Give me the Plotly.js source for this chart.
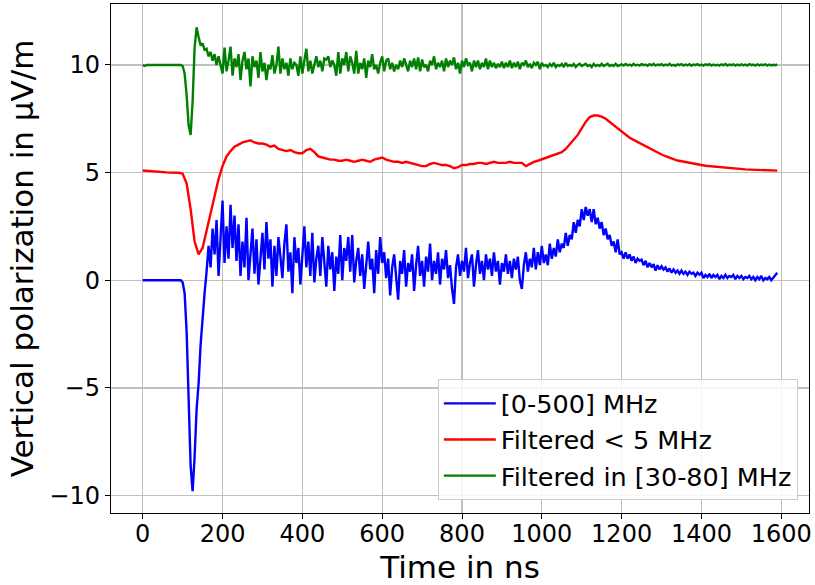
<!DOCTYPE html>
<html>
<head>
<meta charset="utf-8">
<script src="https://cdn.plot.ly/plotly-3.0.1.min.js"></script>
<style>html,body{margin:0;padding:0;background:#fff;}#chart{width:815px;height:585px;}</style>
</head>
<body>
<div id="chart"></div>
<script>
// Sampling: noisy traces every 5 ns, low-pass trace every 10 ns (starting at 0 ns)
const dtFast = 5;
const dtSlow = 10;

// [0-500] MHz (µV/m)
const broadband = [
  0,0,0,0,0,0,0,0,0,0,0,0,0,0,0,0,0,0,0,0,
  -0.1,-0.6,-2.4,-5.5,-8.6,-9.8,-8.2,-6.0,-4.8,-3.0,-1.6,-0.6,0.4,1.6,0.6,2.4,1.2,2.8,0.2,1.8,
  3.7,0.8,2.5,1.0,3.5,1.5,3.0,0.9,2.6,0.2,1.8,0.6,2.9,0.0,1.4,2.4,0.3,1.9,-0.2,1.2,
  2.2,0.5,2.7,1.0,1.9,-0.3,1.6,0.2,2.0,1.1,0.1,1.7,2.6,0.4,1.3,-0.6,2.0,0.8,1.5,-0.2,
  1.4,2.5,0.6,1.8,0.2,2.2,-0.1,1.0,1.6,0.2,2.0,0.8,-0.3,1.6,0.5,1.3,-0.5,1.1,0.3,2.1,
  0.0,1.5,0.9,2.0,0.4,2.1,-0.1,0.9,1.5,0.2,1.2,-0.4,0.7,1.8,0.5,1.0,-0.6,1.4,0.3,2.0,
  0.8,1.3,0.1,1.0,-0.7,0.6,1.2,0.0,-0.9,0.9,0.3,1.4,-0.3,0.8,0.4,1.2,-0.5,0.7,1.6,0.2,
  0.9,-0.3,1.1,0.4,1.7,0.0,0.9,0.3,1.3,-0.2,1.0,0.5,1.4,0.1,0.7,-0.4,-1.1,0.6,1.2,0.2,
  0.9,0.4,1.5,0.1,0.8,1.2,-0.3,0.7,1.4,0.3,0.9,0.0,1.2,0.5,1.0,0.2,1.3,0.4,0.9,-0.2,
  0.8,0.4,1.2,0.3,0.9,0.1,1.0,0.5,1.1,0.0,-0.4,0.7,1.3,0.4,1.0,0.6,1.5,0.5,1.3,0.7,
  1.6,0.8,1.2,0.7,1.7,1.0,1.5,1.1,1.9,1.3,1.7,1.5,2.2,1.6,2.1,1.9,2.7,2.2,2.8,2.5,
  3.3,2.8,3.4,3.0,3.3,2.7,3.3,2.6,2.9,2.4,2.7,2.1,2.4,1.9,2.1,1.6,1.8,1.3,1.9,1.2,
  1.3,1.0,1.3,1.0,1.2,0.9,1.1,0.8,1.0,0.9,0.95,0.7,0.9,0.6,0.8,0.6,0.75,0.45,0.7,0.5,
  0.65,0.5,0.6,0.4,0.55,0.35,0.5,0.35,0.45,0.3,0.45,0.3,0.4,0.25,0.4,0.3,0.35,0.2,0.35,0.25,
  0.35,0.1,0.25,0.15,0.3,0.1,0.25,0.15,0.25,0.05,0.2,0.1,0.25,0.1,0.2,0.15,0.25,0.05,0.2,0.1,
  0.2,0.05,0.15,0.1,0.2,0.05,0.15,0.0,0.15,0.05,0.2,0.0,0.1,0.05,0.15,0.0,0.1,0.2,0.35
];

// Filtered < 5 MHz (offset +5)
const lowpass = [
  5.10,5.08,5.06,5.05,5.03,5.02,5.01,5.00,5.00,4.99,
  4.95,4.5,3.3,1.8,1.2,1.5,2.3,3.1,3.9,4.7,
  5.3,5.75,6.0,6.2,6.3,6.4,6.45,6.5,6.4,6.35,
  6.35,6.3,6.2,6.25,6.1,6.05,6.0,6.05,5.95,5.9,
  5.9,6.05,6.1,5.95,5.75,5.7,5.65,5.6,5.6,5.55,
  5.55,5.6,5.55,5.5,5.55,5.6,5.55,5.5,5.6,5.65,
  5.7,5.6,5.55,5.5,5.5,5.45,5.5,5.45,5.4,5.35,
  5.3,5.3,5.4,5.45,5.4,5.35,5.35,5.3,5.2,5.25,
  5.35,5.35,5.4,5.4,5.45,5.45,5.4,5.45,5.5,5.45,
  5.45,5.45,5.5,5.45,5.45,5.45,5.3,5.4,5.5,5.55,
  5.62,5.7,5.75,5.82,5.88,5.95,6.1,6.3,6.5,6.75,
  7.05,7.35,7.58,7.65,7.65,7.6,7.5,7.35,7.2,7.05,
  6.88,6.75,6.62,6.52,6.42,6.35,6.25,6.12,6.02,5.92,
  5.84,5.76,5.68,5.62,5.56,5.52,5.48,5.44,5.40,5.38,
  5.35,5.32,5.30,5.28,5.26,5.24,5.22,5.20,5.18,5.17,
  5.16,5.15,5.14,5.13,5.12,5.12,5.11,5.10,5.10,5.09
];

// Filtered in [30-80] MHz (offset +10)
const bandpass = [
  10.0,9.95,10.0,10.0,10.0,10.0,10.0,10.0,10.0,10.0,10.0,10.0,10.0,10.0,10.0,10.0,10.0,10.0,10.0,10.0,
  9.95,9.6,8.6,7.2,6.75,8.3,10.8,11.75,11.3,10.9,11.0,10.7,10.75,10.4,10.6,10.2,10.5,10.0,10.4,10.0,
  9.6,10.8,9.7,10.2,10.85,9.5,10.3,9.9,10.5,9.3,10.2,10.6,9.8,10.3,9.0,10.4,9.9,10.2,9.4,10.6,
  9.7,10.1,9.3,10.0,9.8,10.45,9.6,10.0,10.85,9.6,10.3,9.8,10.1,9.5,10.3,9.8,10.1,10.0,9.5,10.4,
  9.6,10.2,10.75,9.7,10.2,9.6,10.0,10.4,9.9,10.2,9.7,10.3,10.25,10.4,9.9,10.2,10.0,9.5,10.6,9.6,
  10.3,10.0,10.6,9.7,10.4,10.1,9.6,10.65,9.6,10.1,9.8,10.3,9.4,10.2,9.9,10.5,9.8,10.0,9.6,10.1,
  10.4,9.7,10.2,10.3,9.8,10.1,9.7,10.0,9.8,10.2,9.9,10.3,10.0,9.7,10.2,9.9,10.3,9.8,10.35,9.7,
  10.25,9.9,10.0,9.7,10.2,10.0,10.4,9.8,10.1,9.9,10.2,9.7,10.3,9.9,10.2,10.0,10.35,9.8,10.1,9.6,
  10.2,9.9,10.3,10.0,10.1,9.7,10.2,9.9,10.2,9.8,10.1,9.9,10.3,9.8,10.2,9.9,10.1,9.85,10.05,9.9,
  10.15,9.85,10.1,9.9,10.2,9.85,10.1,9.9,10.15,9.8,10.1,10.0,10.2,9.9,10.05,9.85,10.1,10.0,10.15,9.8,
  10.1,9.95,10.0,9.9,10.05,9.95,10.1,9.9,10.0,9.95,10.05,9.9,10.1,9.95,10.0,9.95,10.05,9.9,10.0,10.05,
  9.95,10.0,10.05,9.95,10.0,9.9,10.05,9.95,10.0,9.95,10.05,9.95,10.0,10.05,9.95,10.0,9.95,10.05,9.95,10.0,
  10.03,9.97,10.04,9.98,10.02,9.96,10.05,9.98,10.01,9.97,10.04,9.99,10.02,9.96,10.03,9.98,10.05,9.97,10.02,9.99,
  10.04,9.97,10.02,9.98,10.05,9.97,10.01,9.96,10.03,9.99,10.04,9.97,10.02,9.98,10.03,9.96,10.02,9.99,10.04,9.98,
  10.02,9.97,10.03,9.99,10.04,9.97,10.02,9.98,10.01,9.97,10.03,9.98,10.04,9.97,10.02,9.99,10.03,9.97,10.02,9.98,
  10.03,9.98,10.02,9.97,10.04,9.99,10.02,9.97,10.03,9.98,10.02,9.99,10.03,9.97,10.02,9.98,10.01,9.99,10.02
];

const seriesNames = ['[0-500] MHz', 'Filtered < 5 MHz', 'Filtered in [30-80] MHz'];
const seriesColors = ['#0000ff', '#ff0000', '#008000'];
const xTickVals = [0, 200, 400, 600, 800, 1000, 1200, 1400, 1600];
const yTickVals = [-10, -5, 0, 5, 10];

const tFast = broadband.map((_, i) => i * dtFast);
const tSlow = lowpass.map((_, i) => i * dtSlow);
const tBand = bandpass.map((_, i) => i * dtFast);

const traces = [
  {x: tFast, y: broadband, name: seriesNames[0]},
  {x: tSlow, y: lowpass, name: seriesNames[1]},
  {x: tBand, y: bandpass, name: seriesNames[2]}
].map((t, i) => Object.assign(t, {
  type: 'scatter', mode: 'lines',
  line: {color: seriesColors[i], width: 2.4}
}));

const font = 'DejaVu Sans, sans-serif';
const layout = {
  width: 815, height: 585,
  margin: {l: 111, r: 6, t: 4, b: 72},
  paper_bgcolor: '#ffffff', plot_bgcolor: '#ffffff',
  font: {family: font, color: '#000000', size: 24},
  showlegend: true,
  xaxis: {
    range: [-79.5, 1669.5], tickvals: xTickVals,
    ticks: 'outside', ticklen: 5, tickcolor: '#000', tickwidth: 1,
    ticklabelstandoff: -6,
    showline: true, mirror: true, linecolor: '#000', linewidth: 1.2,
    showgrid: true, gridcolor: '#c0c0c0', gridwidth: 1.3, zeroline: false,
    tickfont: {family: font, size: 24, color: '#000'},
    title: {text: 'Time in ns', font: {family: font, size: 31, color: '#000'}, standoff: 10}
  },
  yaxis: {
    range: [-10.81, 12.83], tickvals: yTickVals,
    ticks: 'outside', ticklen: 5, tickcolor: '#000', tickwidth: 1,
    showline: true, mirror: true, linecolor: '#000', linewidth: 1.2,
    showgrid: true, gridcolor: '#c0c0c0', gridwidth: 1.3, zeroline: false,
    tickfont: {family: font, size: 24, color: '#000'},
    title: {text: 'Vertical polarization in µV/m', font: {family: font, size: 31, color: '#000'}, standoff: 6}
  },
  legend: {
    x: 0.984, y: 0.025, xanchor: 'right', yanchor: 'bottom',
    bgcolor: 'rgba(255,255,255,0.85)', bordercolor: '#cccccc', borderwidth: 1,
    itemwidth: 52,
    font: {family: font, size: 25.5, color: '#000'}
  }
};

Plotly.newPlot('chart', traces, layout, {staticPlot: true, displayModeBar: false});
</script>
</body>
</html>
